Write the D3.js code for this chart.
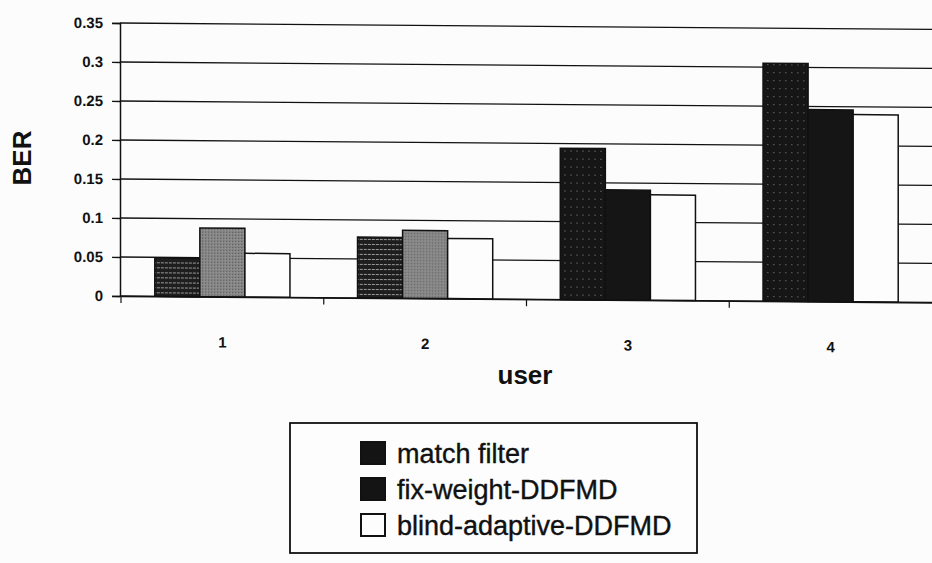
<!DOCTYPE html>
<html lang="en">
<head>
    <meta charset="UTF-8">
    <title>BER per user</title>
    <script src="https://d3js.org/d3.v7.min.js"></script>
    <style>
        body { margin: 0; background: #fcfcfc; }
        text { font-family: Arial, "Liberation Sans", sans-serif; fill: #111; }
    </style>
</head>
<body>
    <script>
        // values
        var users = ["1", "2", "3", "4"];
        var seriesNames = ["match filter", "fix-weight-DDFMD", "blind-adaptive-DDFMD"];
        var matchFilter = [0.049, 0.078, 0.194, 0.305];
        var fixWeight = [0.088, 0.087, 0.141, 0.246];
        var blindAdaptive = [0.056, 0.077, 0.135, 0.240];
        var yTicks = [0, 0.05, 0.1, 0.15, 0.2, 0.25, 0.3, 0.35];
        var yTickLabels = ["0", "0.05", "0.1", "0.15", "0.2", "0.25", "0.3", "0.35"];

        var width = 932;
        var height = 563;
        var plotLeft = 120, plotTop = 23, plotBottom = 296;

        var svg = d3.select("body").append("svg")
            .attr("width", width)
            .attr("height", height);

        // patterns imitating the printed fills
        var defs = svg.append("defs");
        var pLines = defs.append("pattern").attr("id", "mfLines")
            .attr("width", 4).attr("height", 5).attr("patternUnits", "userSpaceOnUse");
        pLines.append("rect").attr("width", 4).attr("height", 5).attr("fill", "#1e1e1e");
        pLines.append("rect").attr("y", 2).attr("width", 3).attr("height", 1).attr("fill", "#9a9a9a");

        var pDots = defs.append("pattern").attr("id", "mfDots")
            .attr("width", 6).attr("height", 8).attr("patternUnits", "userSpaceOnUse");
        pDots.append("rect").attr("width", 6).attr("height", 8).attr("fill", "#161616");
        pDots.append("rect").attr("x", 2).attr("y", 3).attr("width", 1).attr("height", 1).attr("fill", "#8a8a8a");

        var pGray = defs.append("pattern").attr("id", "fwGray")
            .attr("width", 3).attr("height", 3).attr("patternUnits", "userSpaceOnUse");
        pGray.append("rect").attr("width", 3).attr("height", 3).attr("fill", "#858585");
        pGray.append("rect").attr("width", 1).attr("height", 1).attr("fill", "#5a5a5a");
        pGray.append("rect").attr("x", 2).attr("y", 1).attr("width", 1).attr("height", 1).attr("fill", "#9c9c9c");

        function barFill(k, i) {
            if (k === 0) return i < 2 ? "url(#mfLines)" : "url(#mfDots)";
            if (k === 1) return i < 2 ? "url(#fwGray)" : "#151515";
            return "#fdfdfd";
        }

        var x0 = d3.scaleBand().domain(users).range([plotLeft + 1, width]).padding(0);
        var x1 = d3.scaleBand().domain([0, 1, 2]).range([0, x0.bandwidth()])
            .paddingInner(0).paddingOuter(0.75);
        var y = d3.scaleLinear().domain([0, 0.35]).range([plotBottom, plotTop]);

        // the scan is slightly sheared, right side lower
        var plot = svg.append("g")
            .attr("transform", "translate(120,296) skewY(0.45) translate(-120,-296)");

        // gridlines
        plot.append("g")
            .selectAll("line")
            .data(yTicks)
            .enter()
            .append("line")
            .attr("x1", plotLeft)
            .attr("x2", width)
            .attr("y1", d => y(d))
            .attr("y2", d => y(d))
            .attr("stroke", "#111")
            .attr("stroke-width", 1.3);

        // bars
        var series = [matchFilter, fixWeight, blindAdaptive];
        var groups = plot.append("g")
            .selectAll("g")
            .data(users)
            .enter()
            .append("g")
            .attr("transform", d => "translate(" + x0(d) + ",0)");

        groups.selectAll("rect")
            .data((d, i) => series.map((s, k) => ({ k: k, i: i, v: s[i] })))
            .enter()
            .append("rect")
            .attr("x", d => x1(d.k))
            .attr("y", d => y(d.v))
            .attr("width", x1.bandwidth())
            .attr("height", d => y(0) - y(d.v))
            .attr("fill", d => barFill(d.k, d.i))
            .attr("stroke", "#111")
            .attr("stroke-width", 1.5);

        // y axis
        var yAxis = d3.axisLeft(y)
            .tickValues(yTicks)
            .tickFormat((d, i) => yTickLabels[i])
            .tickSize(8)
            .tickPadding(9);
        var gy = plot.append("g")
            .attr("transform", "translate(" + plotLeft + ",0)")
            .call(yAxis);
        gy.select(".domain").attr("stroke", "#111").attr("stroke-width", 1.5);
        gy.selectAll(".tick line").attr("stroke", "#111").attr("stroke-width", 1.3);
        gy.selectAll(".tick text")
            .attr("font-size", 15)
            .attr("font-weight", "bold")
            .attr("fill", "#111");

        // x axis: ticks between categories
        var xAxis = d3.axisBottom(x0).tickSize(0).tickPadding(40);
        var gx = plot.append("g")
            .attr("transform", "translate(0," + plotBottom + ")")
            .call(xAxis);
        gx.select(".domain").attr("stroke", "#111").attr("stroke-width", 1.5);
        gx.selectAll(".tick text")
            .attr("font-size", 15)
            .attr("font-weight", "bold")
            .attr("fill", "#111");
        gx.selectAll(".sep")
            .data(users)
            .enter()
            .append("line")
            .attr("x1", d => x0(d))
            .attr("x2", d => x0(d))
            .attr("y1", 0)
            .attr("y2", 7)
            .attr("stroke", "#111")
            .attr("stroke-width", 1.2);

        // axis titles
        svg.append("text")
            .attr("transform", "translate(31,158) rotate(-90)")
            .attr("text-anchor", "middle")
            .attr("font-size", 26)
            .attr("font-weight", "bold")
            .text("BER");

        svg.append("text")
            .attr("x", 525)
            .attr("y", 384)
            .attr("text-anchor", "middle")
            .attr("font-size", 26)
            .attr("font-weight", "bold")
            .text("user");

        // legend
        var legend = svg.append("g");
        legend.append("rect")
            .attr("x", 290)
            .attr("y", 423)
            .attr("width", 407)
            .attr("height", 130)
            .attr("fill", "#fdfdfd")
            .attr("stroke", "#111")
            .attr("stroke-width", 1.8);

        var legendFill = ["#141414", "#141414", "#fdfdfd"];
        var items = legend.selectAll(".item")
            .data(seriesNames)
            .enter()
            .append("g")
            .attr("transform", (d, i) => "translate(361," + (442 + i * 36) + ")");
        items.append("rect")
            .attr("width", 24)
            .attr("height", 22)
            .attr("fill", (d, i) => legendFill[i])
            .attr("stroke", "#111")
            .attr("stroke-width", 2);
        items.append("text")
            .attr("x", 36)
            .attr("y", 21)
            .attr("font-size", 27)
            .attr("stroke", "#111")
            .attr("stroke-width", 0.4)
            .text(d => d);
    </script>
</body>
</html>
